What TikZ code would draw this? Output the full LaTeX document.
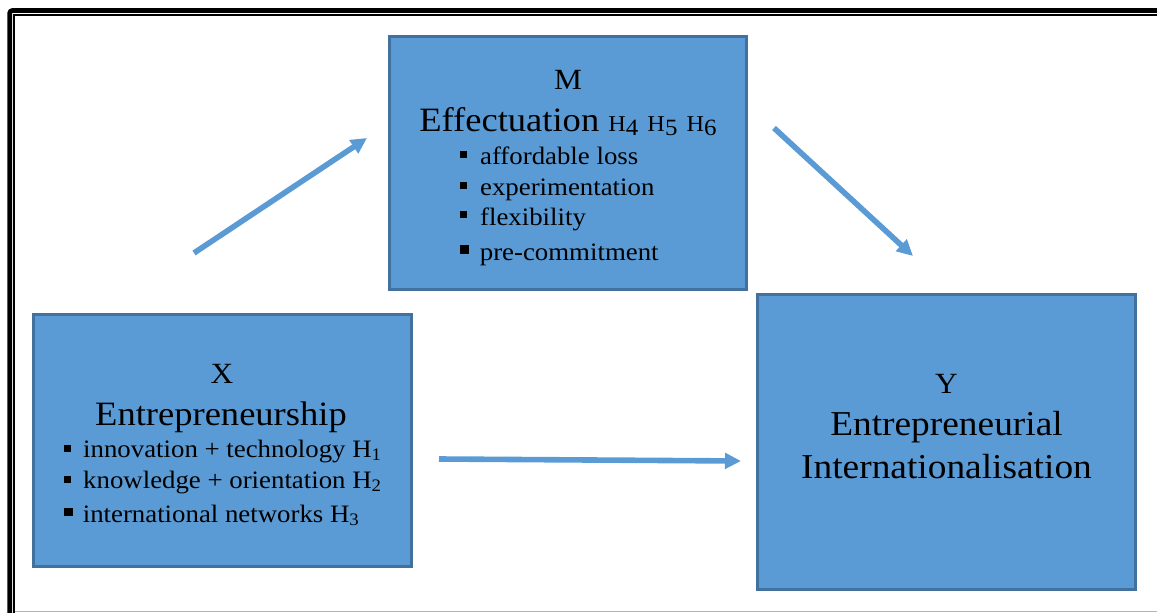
\documentclass[tikz,border=0pt]{standalone}
\usepackage{fontspec}
\setmainfont{Liberation Serif}[FakeStretch=1.07,Ligatures=CommonOff]
\usetikzlibrary{arrows.meta}

\definecolor{boxfill}{HTML}{5B9BD5}
\definecolor{boxline}{HTML}{41719C}
\definecolor{arrowblue}{HTML}{5B9BD5}
\definecolor{rulegray}{HTML}{B4B4B4}

% font size helper
\newcommand{\fsz}[1]{\fontsize{#1}{#1}\selectfont}
% square bullet: size, raise, gap to the text
\newcommand{\sqb}[3]{\rule[#2]{#1}{#1}\hspace{#3}}
% hypothesis label in the mediator title
\newcommand{\hyp}[1]{{\fsz{17pt}H\raisebox{-2.4pt}{\fsz{17.5pt}#1}}}

\tikzset{
  box/.style={draw=boxline, fill=boxfill, line width=1.9pt, rectangle, inner sep=0pt},
  txt/.style={inner sep=0pt, anchor=base},
  item/.style={inner sep=0pt, anchor=base west, font=\fsz{18.8pt}},
  link/.style={draw=arrowblue, line width=4.2pt,
    -{Triangle[length=12pt, width=11.5pt]}},
}

\begin{document}
\begin{tikzpicture}[x=0.75pt, y=-0.75pt]
\useasboundingbox (0,0) rectangle (1157,613);

% page frame
\draw[line width=3.5pt, line join=round, rounded corners=2pt]
  (9.7,640) -- (9.7,10.5) -- (1180,10.5);
\draw[line width=1.3pt] (14.3,640) -- (14.3,15.3) -- (1180,15.3);
\draw[rulegray, line width=0.9pt] (15,611.3) -- (1180,611.3);

% boxes
\node[box, minimum width=268.125pt, minimum height=190.125pt] (M) at (568,163) {};
\node[box, minimum width=283.875pt, minimum height=189.375pt] (X) at (222.5,440.5) {};
\node[box, minimum width=283.875pt, minimum height=221.625pt] (Y) at (946.5,442) {};

% mediator text
\node[txt, font=\fsz{22pt}] (Mlet) at (568,90) {M};
\node[txt] (Mtitle) at (568,132) {\fsz{25.6pt}Effectuation \hyp{4} \hyp{5} \hyp{6}};
\node[item] (m1) at (460,165) {\sqb{5.2pt}{5pt}{9.7pt}affordable loss};
\node[item] (m2) at (460,196) {\sqb{5.2pt}{5pt}{9.7pt}experimentation};
\node[item] (m3) at (460,225) {\sqb{5.2pt}{5pt}{9.7pt}flexibility};
\node[item] (m4) at (460,260) {\sqb{6.5pt}{4.5pt}{8.2pt}pre-commitment};

% independent variable text
\node[txt, font=\fsz{22pt}] (Xlet) at (222,383) {X};
\node[txt, font=\fsz{25.6pt}] (Xtitle) at (221,425) {Entrepreneurship};
\node[item] (x1) at (64,457) {\sqb{5.2pt}{4pt}{9pt}innovation + technology H\textsubscript{1}};
\node[item] (x2) at (64,488) {\sqb{5.2pt}{4pt}{9pt}knowledge + orientation H\textsubscript{2}};
\node[item] (x3) at (64,522) {\sqb{6.3pt}{4.5pt}{7.6pt}international networks H\textsubscript{3}};

% dependent variable text
\node[txt, font=\fsz{22pt}] (Ylet) at (946.5,393) {Y};
\node[txt, font=\fsz{26.2pt}] (Yt1) at (946.5,435) {Entrepreneurial};
\node[txt, font=\fsz{26.2pt}] (Yt2) at (946.5,478) {Internationalisation};

% arrow end points
\coordinate (a1s) at (194,253);
\coordinate (a1e) at (367,138);
\coordinate (a2s) at (774,128);
\coordinate (a2e) at (913,256);
\coordinate (a3s) at (439,459);
\coordinate (a3e) at (741,461);

\draw[link] (a1s) -- (a1e);
\draw[link] (a2s) -- (a2e);
\draw[link] (a3s) -- (a3e);
\end{tikzpicture}
\end{document}
